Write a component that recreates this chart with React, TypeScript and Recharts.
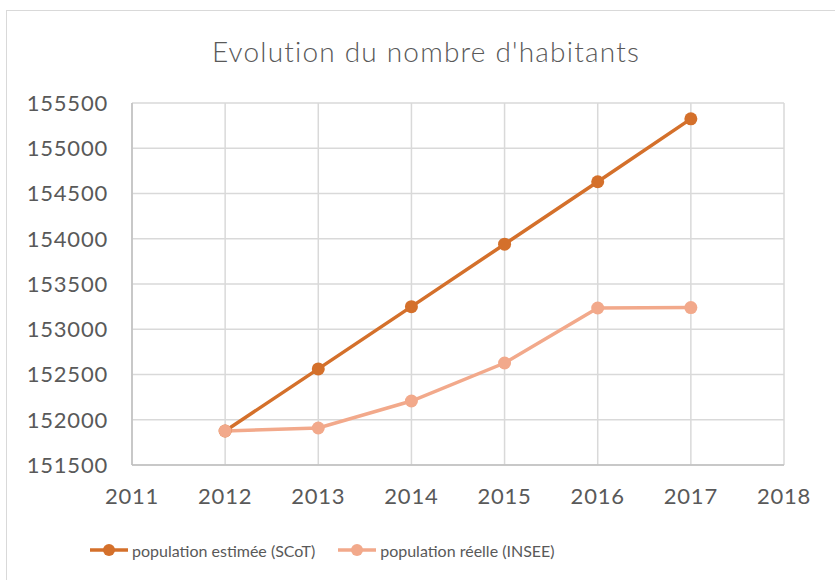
import { CartesianGrid, Line, LineChart, XAxis, YAxis } from "recharts";

const years = [2012, 2013, 2014, 2015, 2016, 2017];
const estimee = [151876, 152562, 153250, 153940, 154630, 155325];
const reelle = [151876, 151909, 152207, 152627, 153235, 153240];
const xTicks = [2011, 2012, 2013, 2014, 2015, 2016, 2017, 2018];
const yTicks = [151500, 152000, 152500, 153000, 153500, 154000, 154500, 155000, 155500];

const series = [
  { key: "estimee", name: "population estimée (SCoT)", color: "#d4702b" },
  { key: "reelle", name: "population réelle (INSEE)", color: "#f2a98b" }
];

const data = years.map((year, i) => ({ year, estimee: estimee[i], reelle: reelle[i] }));

const font = "Lato, 'DejaVu Sans', sans-serif";
const textColor = "#595959";
const tickStyle = { fill: textColor, fontSize: 22, fontFamily: font, letterSpacing: 0.8 };

export default function App() {
  return (
    <div style={{ position: "absolute", left: 0, top: 0, width: 835, height: 580, overflow: "hidden", background: "#fff", fontFamily: font }}>
      <div style={{ position: "absolute", left: 6, top: 10, width: 860, height: 620, border: "1.5px solid #d9d9d9", boxSizing: "border-box" }} />
      <div style={{ position: "absolute", left: 0, width: 852, top: 34, textAlign: "center", fontSize: 28, fontWeight: 300, letterSpacing: 1.2, color: textColor }}>
        Evolution du nombre d'habitants
      </div>
      <LineChart width={835} height={580} data={data} margin={{ top: 103, right: 51, bottom: 0, left: 0 }} style={{ position: "absolute", left: 0, top: 0 }}>
        <CartesianGrid stroke="#d9d9d9" strokeWidth={1.5} verticalValues={xTicks} horizontalValues={yTicks} />
        <XAxis
          dataKey="year"
          type="number"
          domain={[2011, 2018]}
          ticks={xTicks}
          height={115}
          tickSize={0}
          tickMargin={23}
          axisLine={{ stroke: "#bfbfbf", strokeWidth: 1.5 }}
          tick={tickStyle}
        />
        <YAxis
          type="number"
          domain={[151500, 155500]}
          ticks={yTicks}
          width={132}
          tickSize={0}
          tickMargin={24}
          axisLine={{ stroke: "#bfbfbf", strokeWidth: 1.5 }}
          tick={tickStyle}
        />
        {series.map((s) => (
          <Line
            key={s.key}
            dataKey={s.key}
            name={s.name}
            stroke={s.color}
            strokeWidth={3.5}
            dot={{ r: 6.5, fill: s.color, stroke: s.color, strokeWidth: 0 }}
            activeDot={false}
            isAnimationActive={false}
          />
        ))}
      </LineChart>
      <div style={{ position: "absolute", top: 537, left: 90, display: "flex", alignItems: "center", fontSize: 16, color: textColor }}>
        {series.map((s, i) => (
          <div key={s.key} style={{ display: "flex", alignItems: "center", marginRight: i === 0 ? 23 : 0 }}>
            <svg width={38} height={26} style={{ marginRight: 4 }}>
              <line x1={0} y1={13} x2={38} y2={13} stroke={s.color} strokeWidth={3.5} />
              <circle cx={19} cy={13} r={6} fill={s.color} />
            </svg>
            <span>{s.name}</span>
          </div>
        ))}
      </div>
    </div>
  );
}
